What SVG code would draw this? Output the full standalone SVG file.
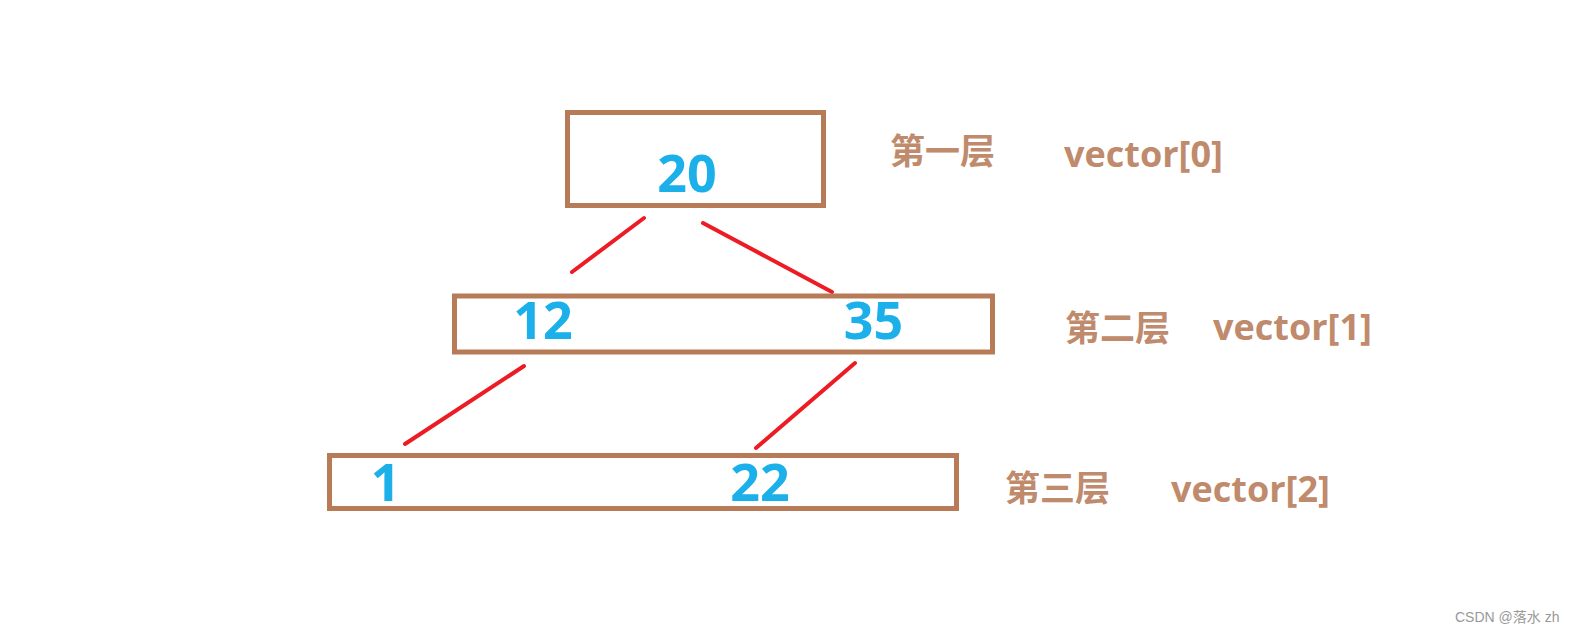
<svg xmlns="http://www.w3.org/2000/svg" width="1574" height="634" viewBox="0 0 1574 634">
<style>
.box{fill:none;stroke:#B87B58;stroke-width:5}
.num{font-family:"Open Sans","Liberation Sans",sans-serif;font-weight:bold;font-size:52px;fill:#1CB0EA;text-anchor:middle}
.cn{font-family:"Noto Sans CJK SC",sans-serif;font-weight:bold;font-size:35px;fill:#C08A6C}
.vec{font-family:"Open Sans","Liberation Sans",sans-serif;font-weight:bold;font-size:36px;fill:#C08A6C}
.edge{stroke:#ED1C24;stroke-width:4;stroke-linecap:round;fill:none}
.wm{font-family:"Liberation Sans","Noto Sans CJK SC",sans-serif;font-size:14px;fill:#999}
</style>
<rect width="1574" height="634" fill="#fff"/>
<g id="connectors">
<line class="edge" x1="644" y1="218" x2="572" y2="272"/>
<line class="edge" x1="703" y1="223" x2="832" y2="292"/>
<line class="edge" x1="524" y1="366" x2="405" y2="444"/>
<line class="edge" x1="855" y1="363" x2="756" y2="448"/>
</g>
<g id="level0">
<rect class="box" x="567.5" y="112.5" width="256" height="93"/>
<text class="num" x="687" y="192">20</text>
</g>
<g id="level1">
<rect class="box" x="454.5" y="296" width="538" height="56"/>
<text class="num" x="543" y="339">12</text>
<text class="num" x="873.5" y="339">35</text>
</g>
<g id="level2">
<rect class="box" x="329.5" y="455.5" width="627" height="53"/>
<text class="num" x="385.5" y="501">1</text>
<text class="num" x="760" y="501">22</text>
</g>
<g id="label0">
<text class="cn" x="890" y="164">第一层</text>
<text class="vec" x="1064" y="167">vector[0]</text>
</g>
<g id="label1">
<text class="cn" x="1065" y="341">第二层</text>
<text class="vec" x="1213" y="340">vector[1]</text>
</g>
<g id="label2">
<text class="cn" x="1005" y="501">第三层</text>
<text class="vec" x="1171" y="502">vector[2]</text>
</g>
<text class="wm" x="1455" y="622">CSDN @落水 zh</text>
</svg>
